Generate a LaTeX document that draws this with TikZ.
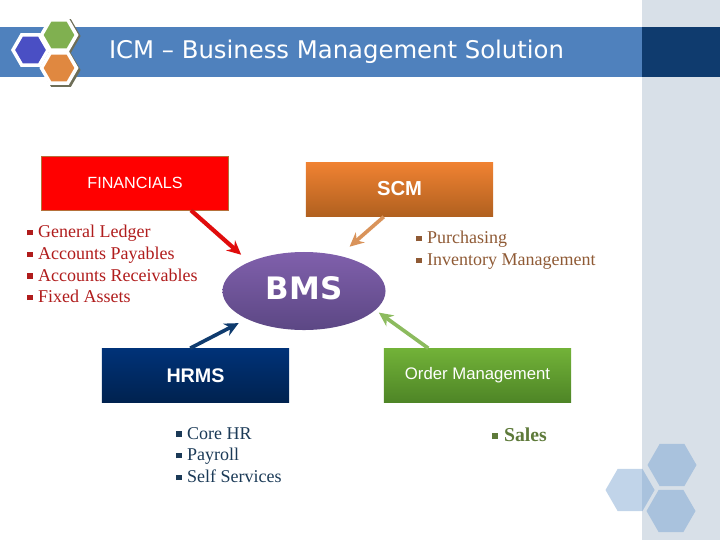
\documentclass[tikz,border=0pt]{standalone}
\usepackage{fontspec}
\setmainfont{Liberation Serif}
\setsansfont{Liberation Sans}
\newfontfamily\titlefont{DejaVu Sans}
\usetikzlibrary{shapes.geometric,positioning,arrows.meta}
\definecolor{bandblue}{HTML}{4F81BD}
\definecolor{banddark}{HTML}{0F3B6E}
\definecolor{panelgray}{HTML}{D8E0E8}
\definecolor{hexdark}{HTML}{A9C2DD}
\definecolor{hexlight}{HTML}{C1D4E9}
\definecolor{finred}{HTML}{B01C1C}
\definecolor{scmbrown}{HTML}{8F5A35}
\definecolor{hrnavy}{HTML}{1B3A57}
\definecolor{salesgreen}{HTML}{5E7A3A}
\definecolor{logoblue}{HTML}{4A4FC4}
\definecolor{logogreen}{HTML}{80B050}
\definecolor{logoorange}{HTML}{E08840}
\definecolor{logoshade}{HTML}{6E6E58}
\definecolor{finborder}{HTML}{B5703A}
\definecolor{scmtop}{HTML}{F08232}
\definecolor{scmbottom}{HTML}{B0601F}
\definecolor{hrtop}{HTML}{003278}
\definecolor{hrbottom}{HTML}{00224F}
\definecolor{ordertop}{HTML}{72B238}
\definecolor{orderbottom}{HTML}{4E8526}
\definecolor{bmstop}{HTML}{8060AC}
\definecolor{bmsbottom}{HTML}{5C4784}
\definecolor{linkred}{HTML}{E00C0C}
\definecolor{linkorange}{HTML}{D9935A}
\definecolor{linkgreen}{HTML}{8CBB5E}
\definecolor{linkblue}{HTML}{0F3B6E}
\newcommand{\itembox}{\rule[0.14em]{0.3em}{0.3em}\hspace{0.3em}}

\begin{document}
\begin{tikzpicture}[x=0.025cm,y=-0.025cm,>={Stealth[length=10pt,width=9.5pt]},
    box/.style = {minimum width=4.675cm, minimum height=1.35cm, inner sep=0pt, text=white},
    hexa/.style = {regular polygon, regular polygon sides=6, inner sep=0pt, outer sep=0pt, minimum size=1.225cm},
    logohex/.style = {hexa, minimum size=0.875cm, draw=white, line width=2.5pt},
    logoshadow/.style = {hexa, minimum size=0.98cm, fill=logoshade},
    items/.style = {anchor=north west, align=left, inner sep=0pt, font=\fontsize{12.8}{15.4}\selectfont},
    link/.style = {->, line width=2.6pt}]
    \useasboundingbox (0,0) rectangle (720,540);

    % Hintergrund
    \fill[panelgray] (642,0) rectangle (720,540);
    \fill[bandblue] (0,27) rectangle (642,77);
    \fill[banddark] (642,27) rectangle (720,77);

    % Logo
    \node (shadeg) at (61,36) [logoshadow]{};
    \node (shadeo) at (61,70) [logoshadow]{};
    \node (hexblue) at (30.5,50) [logohex, fill=logoblue]{};
    \node (hexgreen) at (59,35) [logohex, fill=logogreen]{};
    \node (hexorange) at (59,68) [logohex, fill=logoorange]{};

    % Titel
    \node (title) at (336.5,52) [text=white, font=\titlefont\fontsize{17.3}{20}\selectfont]{ICM – Business Management Solution};

    % Hexagone unten rechts
    \node (hexleft) at (630,490) [hexa, fill=hexlight]{};
    \begin{scope}
        \clip (642,0) rectangle (720,540);
        \node (hexleftb) at (630,490) [hexa, fill=hexdark]{};
    \end{scope}
    \node (hextop) at (672,465) [hexa, fill=hexdark]{};
    \node (hexbottom) at (671,511) [hexa, fill=hexdark]{};

    % Kaesten
    \node (financials) at (135,183) [box, fill=red, draw=finborder, font=\sffamily\fontsize{11.5}{14}\selectfont]{FINANCIALS};
    \node (scm) at (399.5,189.5) [box, top color=scmtop, bottom color=scmbottom, font=\sffamily\bfseries\fontsize{14.4}{16}\selectfont]{\raisebox{1pt}{SCM}};
    \node (hrms) at (195.5,375.5) [box, top color=hrtop, bottom color=hrbottom, font=\sffamily\bfseries\fontsize{14}{16}\selectfont]{HRMS};
    \node (order) at (477.5,375.5) [box, top color=ordertop, bottom color=orderbottom, font=\sffamily\fontsize{11.9}{14}\selectfont]{\raisebox{-1pt}{Order Management}};
    \node (bms) at (304,291) [ellipse, minimum width=4.075cm, minimum height=1.95cm, inner sep=0pt, top color=bmstop, bottom color=bmsbottom, text=white, font=\titlefont\bfseries\fontsize{22}{26}\selectfont]{\raisebox{4pt}{BMS}};

    % Pfeile
    \draw[link, linkred, line width=3pt, shorten >=7.6pt] (financials.-26) -- (bms.152);
    \draw[link, linkorange, shorten >=9.6pt] (scm.240.6) -- (bms.45.6);
    \draw[link, linkgreen, shorten >=3pt] (order.151.9) -- (bms.-15.8);
    \draw[link, linkblue, shorten >=6.4pt] (hrms.101) -- (bms.206.6);

    % Listen
    \node (finlist) at (27,225) [items, text=finred]{\itembox General Ledger\\\itembox Accounts Payables\\\itembox Accounts Receivables\\\itembox Fixed Assets};
    \node (scmlist) at (416,231) [items, text=scmbrown]{\itembox Purchasing\\\itembox Inventory Management};
    \node (hrlist) at (176,427) [items, text=hrnavy]{\itembox Core HR\\\itembox Payroll\\\itembox Self Services};
    \node (saleslist) at (492,428) [items, text=salesgreen, font=\bfseries\fontsize{14}{16}\selectfont]{\itembox Sales};
\end{tikzpicture}
\end{document}
